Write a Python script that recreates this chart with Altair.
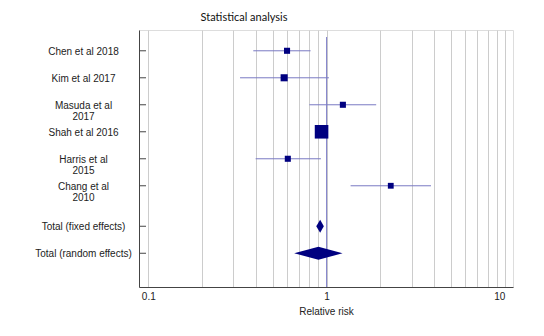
import json
import altair as alt
import pandas as pd

# ---- data ----
studies = ["Chen et al 2018", "Kim et al 2017", "Masuda et al\n2017", "Shah et al 2016",
           "Harris et al\n2015", "Chang et al\n2010"]
rr = [0.60, 0.578, 1.234, 0.937, 0.606, 2.29]
ci_low = [0.388, 0.327, 0.80, 0.88, 0.40, 1.363]
ci_high = [0.813, 1.03, 1.897, 1.01, 0.929, 3.85]
weights = [9.7, 13.2, 9.7, 48.6, 9.7, 8.9]

totals = ["Total (fixed effects)", "Total (random effects)"]
tot_rr = [0.92, 0.90]
tot_low = [0.875, 0.658]
tot_high = [0.965, 1.229]

x_ticks = [0.1, 0.2, 0.3, 0.4, 0.5, 0.6, 0.7, 0.8, 0.9, 1, 2, 3, 4, 5, 6, 7, 8, 9, 10]
x_labeled = [0.1, 1, 10]

# ---- build tables ----
n = len(studies)
study_rows = list(range(n))
total_rows = [n + 0.5 + j for j in range(len(totals))]
all_rows = study_rows + total_rows
all_labels = [s.split("\n") for s in studies] + [[t] for t in totals]

study_df = pd.DataFrame({"name": studies, "row": study_rows, "rr": rr,
                         "lo": ci_low, "hi": ci_high, "w": weights})

h = 0.24
dia = []
for t, r, e, lo, hi in zip(totals, total_rows, tot_rr, tot_low, tot_high):
    dia.append({"name": t, "x": lo, "y": r, "y2": r})
    dia.append({"name": t, "x": e, "y": r - h, "y2": r + h})
    dia.append({"name": t, "x": hi, "y": r, "y2": r})
dia_df = pd.DataFrame(dia)
tick_df = pd.DataFrame({"row": all_rows})

W, H = 374, 257
xscale = alt.Scale(type="log", domain=[0.0887, 11.1], nice=False)
yscale = alt.Scale(domain=[-0.77, 8.75], reverse=True, nice=False, zero=False)

label_expr_y = "%s[indexof(%s, datum.value)]" % (json.dumps(all_labels), json.dumps(all_rows))
label_expr_x = "indexof(%s, datum.value) >= 0 ? datum.label : ''" % json.dumps(x_labeled)

x_axis = alt.Axis(values=x_ticks, labelExpr=label_expr_x, format="~g", grid=True,
                  gridColor="#cccccc", gridWidth=1, ticks=False, labelOverlap=False,
                  labelFlush=False, labelPadding=4, labelFontSize=10, labelColor="#222",
                  labelAlign={"condition": {"test": "datum.value >= 10", "value": "right"},
                              "value": "center"},
                  labelFont="Liberation Sans", title="Relative risk", titleFont="Liberation Sans",
                  titleFontSize=10, titleFontWeight="normal", titleColor="#222", titlePadding=5,
                  domainColor="#444")
y_axis = alt.Axis(values=all_rows, labelExpr=label_expr_y, grid=False, ticks=False, tickSize=0,
                  labelAlign="center", labelBaseline="top", labelOffset=-4.5, labelPadding=56,
                  labelFontSize=10, labelColor="#222", labelFont="Liberation Sans",
                  labelLineHeight=11.5, labelOverlap=False, labelFlush=False, title=None,
                  domainColor="#444")

ci = alt.Chart(study_df).mark_rule(color="#7a7ac4", strokeWidth=1).encode(
    x=alt.X("lo:Q", scale=xscale, axis=x_axis),
    x2="hi:Q",
    y=alt.Y("row:Q", scale=yscale, axis=y_axis),
)

ref = alt.Chart(pd.DataFrame({"v": [1]})).mark_rule(color="#7c7cc8", strokeWidth=1).encode(
    x=alt.X("v:Q", scale=xscale, axis=x_axis),
    y=alt.value(7), y2=alt.value(H),
)

squares = alt.Chart(study_df).mark_square(color="#000080", opacity=1).encode(
    x=alt.X("rr:Q", scale=xscale, axis=x_axis),
    y=alt.Y("row:Q", scale=yscale, axis=y_axis),
    size=alt.Size("w:Q", scale=alt.Scale(domain=[0, 50], range=[0, 190]), legend=None),
)

diamonds = alt.Chart(dia_df).mark_area(color="#000080", opacity=1, orient="vertical").encode(
    x=alt.X("x:Q", scale=xscale, axis=x_axis),
    y=alt.Y("y:Q", scale=yscale, axis=y_axis),
    y2="y2:Q",
    detail="name:N",
)

yticks = alt.Chart(tick_df).mark_rule(color="#444").encode(
    x=alt.value(0), x2=alt.value(7),
    y=alt.Y("row:Q", scale=yscale, axis=y_axis),
)

chart = alt.layer(ci, ref, squares, diamonds, yticks).properties(
    width=W, height=H,
    title=alt.TitleParams("Statistical analysis", font="Lato", fontSize=11,
                          fontWeight="normal", color="#111", anchor="middle", dx=-82,
                          baseline="bottom", offset=8, dy=12),
    autosize=alt.AutoSizeParams(type="none"),
    padding={"left": 139, "top": 30, "right": 31, "bottom": 49},
).configure_view(stroke=None).configure(background="white")

chart.save("out.html", embed_options={"renderer": "svg", "actions": False})
